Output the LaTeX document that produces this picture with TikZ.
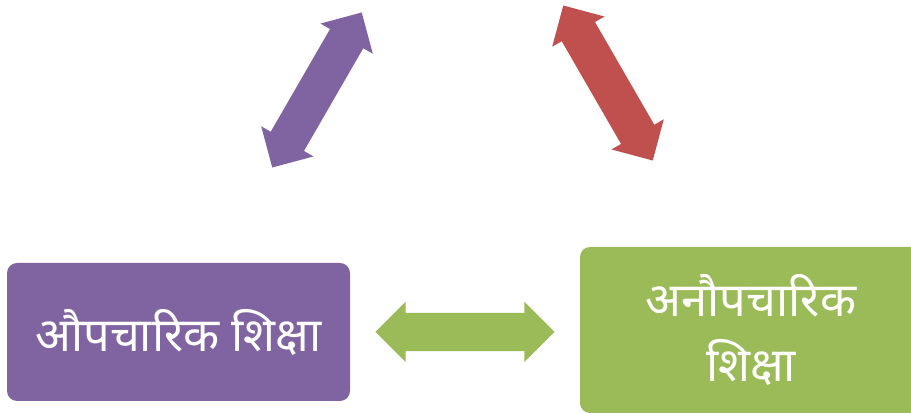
\documentclass[tikz,border=0pt]{standalone}
\usepackage{fontspec}
\newfontfamily\deva[Script=Devanagari]{Noto Sans}
\usetikzlibrary{shapes.arrows}
\definecolor{opurple}{HTML}{8064A2}
\definecolor{ored}{HTML}{C0504D}
\definecolor{ogreen}{HTML}{9BBB59}
\begin{document}
\begin{tikzpicture}[x=1pt,y=1pt,
  box/.style={rounded corners=10pt, inner sep=0pt, text=white, align=center,
    font=\deva\fontsize{47}{65}\selectfont},
  dbl/.style={double arrow, draw=none, inner xsep=0pt, inner ysep=19pt, minimum height=179pt,
    minimum width=60pt, double arrow head extend=11pt, double arrow tip angle=90}]
\useasboundingbox (0,0) rectangle (911,414);
\node[box, fill=opurple, minimum width=343pt, minimum height=138pt] (formal) at (178.5,82) {औपचारिक शिक्षा};
\node[box, fill=ogreen, minimum width=342pt, minimum height=166pt] (nonformal) at (751,84) {अनौपचारिक\\शिक्षा};
\node[dbl, fill=ogreen] (harrow) at (465,82) {};
\node[dbl, fill=opurple, rotate=60] (parrow) at (317,324) {};
\node[dbl, fill=ored, rotate=-60] (rarrow) at (608,331) {};
\end{tikzpicture}
\end{document}
